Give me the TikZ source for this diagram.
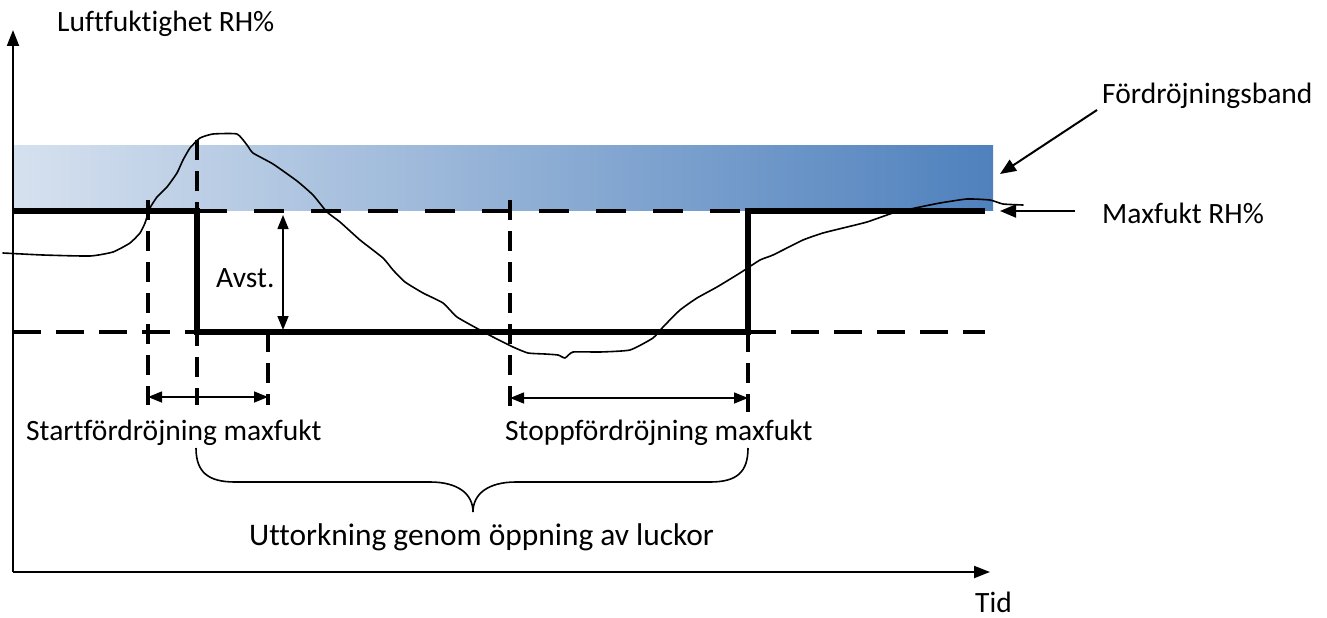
\documentclass[tikz,border=0pt]{standalone}
\usepackage{fontspec}
\setmainfont[Ligatures=NoCommon]{Carlito}
\usetikzlibrary{arrows.meta}
\definecolor{bandL}{RGB}{214,225,239}
\definecolor{bandM}{RGB}{168,189,220}
\definecolor{bandR}{RGB}{79,129,189}
\begin{document}
\begin{tikzpicture}[x=1pt,y=-1pt,
  lbl/.style={inner sep=0pt, anchor=base west, font=\fontsize{29.5}{35}\selectfont},
  axisline/.style={line width=2pt, -{Triangle[length=16pt,width=12pt]}},
  thickline/.style={line width=6pt, line join=miter},
  hdash/.style={line width=3.5pt, dash pattern=on 30pt off 27pt},
  ldash/.style={line width=3.5pt, dash pattern=on 28pt off 15pt},
  vdash/.style={line width=3.5pt, dash pattern=on 20pt off 11pt},
  dimarrow/.style={line width=1.5pt, {Triangle[length=14pt,width=11pt]}-{Triangle[length=14pt,width=11pt]}},
  callout/.style={line width=2pt, -{Triangle[length=16pt,width=13pt]}},
  curve/.style={line width=1.6pt, line join=round, line cap=round}
]
\useasboundingbox (0,0) rectangle (1327,618);

% band
\shade[left color=bandL, middle color=bandM, right color=bandR] (13,145) rectangle (993,210);

% coordinates
\coordinate (O) at (13,572);
\coordinate (Ytop) at (13,30);
\coordinate (Xend) at (990,572);

% dashed lines
\draw[ldash] (13,332) -- (197,332);
\draw[ldash] (748,332) -- (985,332);
\draw[hdash] (197,211) -- (748,211);
\draw[vdash] (148,200) -- (148,405);
\draw[vdash] (197,140) -- (197,405);
\draw[vdash] (268,332) -- (268,405);
\draw[vdash] (510,200) -- (510,412);
\draw[vdash] (748,332) -- (748,412);

% thick step line
\draw[thickline] (13,211) -- (197,211) -- (197,332) -- (748,332) -- (748,211) -- (985,211);

% humidity curve
\draw[curve] plot[smooth, tension=0.3] coordinates {
(3,253) (43,255) (90,256) (113,252) (130,243) (140,233) (145,223) (150,208)
(157,197) (167,187) (177,173) (183,160) (190,148) (200,138) (213,134) (237,134)
(247,145) (253,153) (273,164) (297,181) (313,195) (327,212) (340,222) (360,240)
(383,258) (393,270) (405,282) (423,293) (443,303) (457,317) (480,330) (493,337)
(513,347) (528,353) (545,354) (558,355) (565,358) (573,352) (600,352) (630,350)
(653,338) (663,327) (680,310) (697,298) (717,287) (740,273) (760,260) (773,255)
(803,240) (823,233) (843,228) (867,222) (893,213) (920,207) (940,203) (967,199)
(990,200) (1003,204) (1023,205)};

% axes
\draw[axisline] (O) -- (Ytop);
\draw[axisline] (O) -- (Xend);

% dimension arrows
\coordinate (sA) at (148,397); \coordinate (sB) at (268,397);
\coordinate (pA) at (510,398); \coordinate (pB) at (748,398);
\coordinate (aA) at (283,215); \coordinate (aB) at (283,330);
\draw[dimarrow] (sA) -- (sB);
\draw[dimarrow] (pA) -- (pB);
\draw[dimarrow] (aA) -- (aB);

% brace
\coordinate (brL) at (196,448);
\coordinate (brTip) at (473,512);
\coordinate (brR) at (748,448);
\draw[line width=1.6pt] (brL) .. controls (196,472) and (208,482) .. (235,482) -- (430,482)
  .. controls (458,482) and (473,494) .. (brTip)
  .. controls (473,494) and (488,482) .. (516,482) -- (710,482)
  .. controls (737,482) and (748,472) .. (brR);

% labels
\node[lbl] (ylab) at (57,32) {Luftfuktighet RH\%};
\node[lbl] (xlab) at (975,612) {Tid};
\node[lbl] (band) at (1102,103) {Fördröjningsband};
\node[lbl] (maxf) at (1102,223) {Maxfukt RH\%};
\node[lbl] (avst) at (216,287) {Avst.};
\node[lbl] (start) at (26,440) {Startfördröjning maxfukt};
\node[lbl] (stopp) at (505,440) {Stoppfördröjning maxfukt};
\node[lbl, font=\fontsize{31.4}{37}\selectfont] (utt) at (249,545) {Uttorkning genom öppning av luckor};

% callouts
\coordinate (bandA) at (1097,110);
\coordinate (bandT) at (1000,174);
\coordinate (maxA) at (1075,211);
\coordinate (maxT) at (1000,211);
\draw[callout] (bandA) -- (bandT);
\draw[callout] (maxA) -- (maxT);
\end{tikzpicture}
\end{document}
